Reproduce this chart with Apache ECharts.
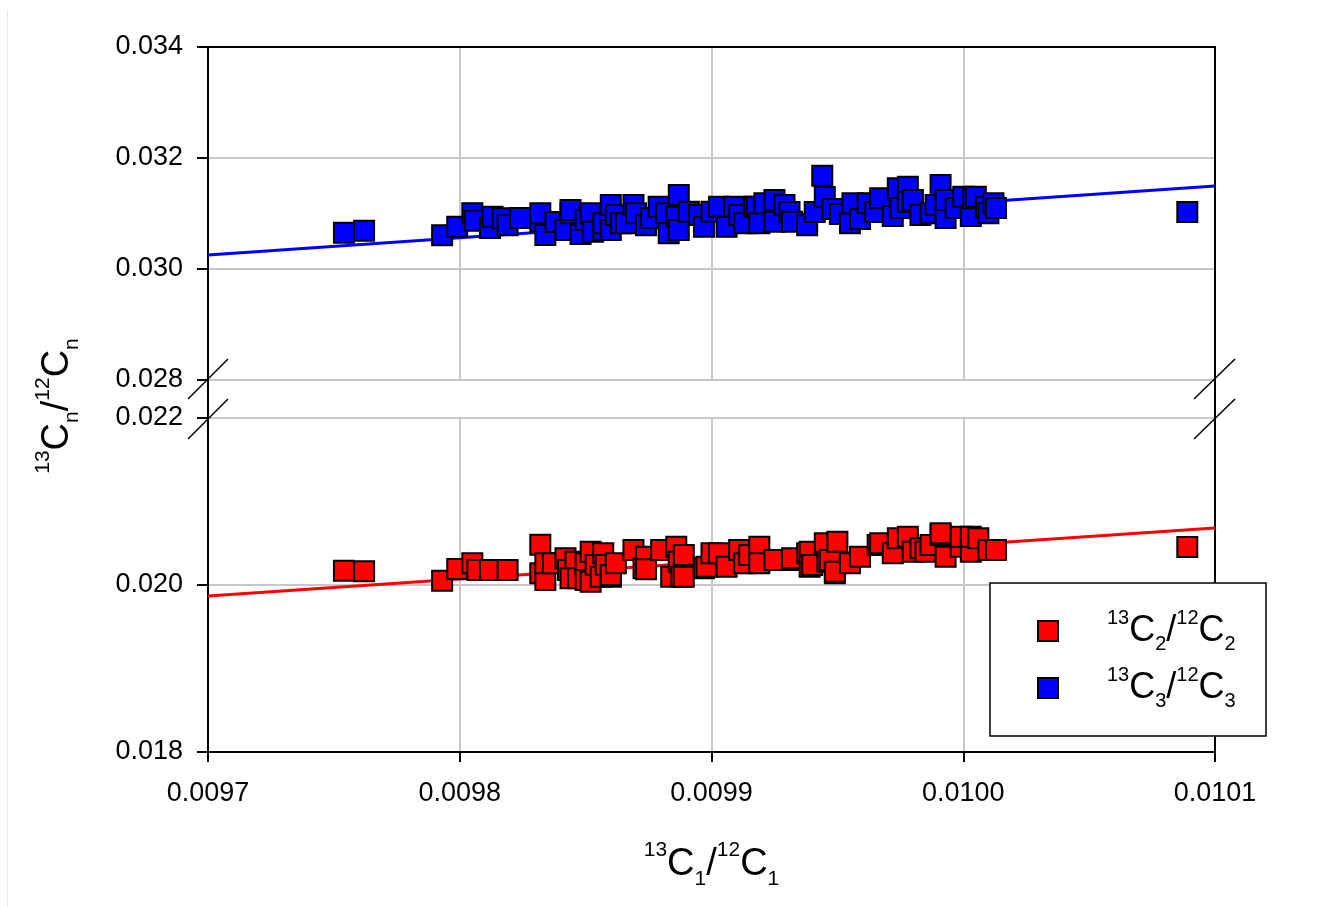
<!DOCTYPE html>
<html lang="en">
<head>
    <meta charset="UTF-8">
    <title>13C ratios</title>
    <script src="https://cdn.jsdelivr.net/npm/echarts@6/dist/echarts.min.js"></script>
</head>
<body style="margin: 0; background: #fff">
<div id="chart" style="width: 1326px; height: 907px"></div>

<script>
    // axis ranges (x shared, y split in two panels)
    const xRange = [0.0097, 0.0101];
    const xStep = 0.0001;
    const yTopRange = [0.028, 0.034];
    const yBottomRange = [0.018, 0.022];
    const yStep = 0.002;

    // 13C3/12C3 vs 13C1/12C1 (blue, upper panel)
    const c3Points = [
        [0.009754, 0.030654], [0.009762, 0.030690], [0.009793, 0.030607], [0.009799, 0.030762],
        [0.009805, 0.031004], [0.009806, 0.030870], [0.009812, 0.030739], [0.009813, 0.030942],
        [0.009817, 0.030913], [0.009819, 0.030787], [0.009824, 0.030919], [0.009832, 0.030852],
        [0.009832, 0.031004], [0.009834, 0.030613], [0.009838, 0.030847], [0.009842, 0.030703],
        [0.009844, 0.031004], [0.009844, 0.031063], [0.009848, 0.030631], [0.009850, 0.030883],
        [0.009852, 0.031004], [0.009853, 0.030672], [0.009857, 0.030703], [0.009857, 0.030823],
        [0.009860, 0.031153], [0.009860, 0.030703], [0.009862, 0.030973], [0.009864, 0.030823],
        [0.009866, 0.030823], [0.009869, 0.031153], [0.009870, 0.031004], [0.009874, 0.030787],
        [0.009876, 0.030919], [0.009879, 0.031123], [0.009882, 0.031004], [0.009883, 0.030643],
        [0.009886, 0.030942], [0.009887, 0.031333], [0.009887, 0.030703], [0.009891, 0.031032],
        [0.009895, 0.030973], [0.009897, 0.030762], [0.009900, 0.031032], [0.009903, 0.031123],
        [0.009906, 0.030762], [0.009909, 0.031123], [0.009911, 0.030973], [0.009913, 0.030823],
        [0.009917, 0.031123], [0.009918, 0.031123], [0.009919, 0.030823], [0.009921, 0.031184],
        [0.009925, 0.030852], [0.009925, 0.031243], [0.009929, 0.031153], [0.009931, 0.031027],
        [0.009932, 0.030852], [0.009938, 0.030787], [0.009941, 0.031027], [0.009944, 0.031681],
        [0.009945, 0.031297], [0.009948, 0.031081], [0.009951, 0.030991], [0.009955, 0.030823],
        [0.009956, 0.031184], [0.009959, 0.030901], [0.009962, 0.031184], [0.009965, 0.031027],
        [0.009967, 0.031274], [0.009972, 0.030955], [0.009974, 0.031454], [0.009975, 0.031099],
        [0.009978, 0.031483], [0.009978, 0.031213], [0.009980, 0.031243], [0.009983, 0.030973],
        [0.009987, 0.031004], [0.009989, 0.031153], [0.009991, 0.031514], [0.009993, 0.030919],
        [0.009993, 0.031243], [0.009997, 0.031099], [0.010000, 0.031303], [0.010003, 0.030955],
        [0.010004, 0.031274], [0.010005, 0.031303], [0.010009, 0.031117], [0.010010, 0.031004],
        [0.010012, 0.031184], [0.010013, 0.031099], [0.010089, 0.031027]
    ];

    // 13C2/12C2 vs 13C1/12C1 (red, lower panel)
    const c2Points = [
        [0.009754, 0.020171], [0.009762, 0.020164], [0.009793, 0.020052], [0.009799, 0.020192],
        [0.009805, 0.020260], [0.009807, 0.020180], [0.009812, 0.020180], [0.009819, 0.020180],
        [0.009832, 0.020483], [0.009832, 0.020140], [0.009834, 0.020060], [0.009834, 0.020260],
        [0.009837, 0.020260], [0.009842, 0.020320], [0.009843, 0.020180], [0.009846, 0.020279],
        [0.009844, 0.020080], [0.009847, 0.020080], [0.009850, 0.020260], [0.009850, 0.020060],
        [0.009852, 0.020040], [0.009852, 0.020399], [0.009854, 0.020240], [0.009856, 0.020099],
        [0.009857, 0.020380], [0.009858, 0.020240], [0.009860, 0.020099], [0.009860, 0.020120],
        [0.009862, 0.020260], [0.009869, 0.020419], [0.009873, 0.020200], [0.009874, 0.020339],
        [0.009874, 0.020188], [0.009880, 0.020419], [0.009884, 0.020099], [0.009886, 0.020459],
        [0.009887, 0.020279], [0.009888, 0.020099], [0.009889, 0.020359], [0.009889, 0.020099],
        [0.009897, 0.020200], [0.009898, 0.020219], [0.009900, 0.020380], [0.009903, 0.020380],
        [0.009906, 0.020219], [0.009911, 0.020419], [0.009913, 0.020260], [0.009915, 0.020359],
        [0.009919, 0.020459], [0.009919, 0.020260], [0.009925, 0.020299], [0.009932, 0.020299],
        [0.009932, 0.020320], [0.009938, 0.020380], [0.009939, 0.020399], [0.009939, 0.020219],
        [0.009940, 0.020240], [0.009945, 0.020499], [0.009946, 0.020279], [0.009947, 0.020299],
        [0.009949, 0.020140], [0.009949, 0.020159], [0.009950, 0.020519], [0.009955, 0.020260],
        [0.009959, 0.020339], [0.009966, 0.020479], [0.009967, 0.020499], [0.009972, 0.020380],
        [0.009974, 0.020559], [0.009978, 0.020578], [0.009980, 0.020399], [0.009983, 0.020440],
        [0.009985, 0.020399], [0.009987, 0.020479], [0.009991, 0.020599], [0.009991, 0.020619],
        [0.009993, 0.020339], [0.009999, 0.020459], [0.009999, 0.020578], [0.010003, 0.020399],
        [0.010003, 0.020578], [0.010006, 0.020559], [0.010010, 0.020419], [0.010013, 0.020419],
        [0.010089, 0.020455]
    ];

    // regression lines, end points at the x range limits
    const c3Fit = [[0.0097, 0.030252], [0.0101, 0.031495]];
    const c2Fit = [[0.0097, 0.019868], [0.0101, 0.020683]];

    const font = 'Liberation Sans, Arial, Helvetica, sans-serif';
    const gridColor = '#c8c8c8';

    function richStyle(big, small, lh) {
        return {
            b: {fontSize: big, lineHeight: lh, fontFamily: font, color: '#000'},
            sup: {fontSize: small, lineHeight: small, verticalAlign: 'top', fontFamily: font, color: '#000'},
            sup0: {fontSize: small, lineHeight: small, verticalAlign: 'top', fontFamily: font, color: '#000', padding: [0, 0, 0, 44]},
            sub: {fontSize: small, lineHeight: small, verticalAlign: 'bottom', fontFamily: font, color: '#000'}
        };
    }

    function ratio(n, first) {
        return '{' + (first ? 'sup0' : 'sup') + '|13}{b|C}{sub|' + n + '}{b|/}{sup|12}{b|C}{sub|' + n + '}';
    }

    function yAxis(grid, range, side) {
        const left = side === 'left';
        return {
            type: 'value', gridIndex: grid, position: side,
            min: range[0], max: range[1], interval: yStep,
            axisLine: {show: true, lineStyle: {color: '#000', width: 2}},
            axisTick: {show: left, inside: false, length: 11, lineStyle: {color: '#000', width: 2}},
            axisLabel: {
                show: left, margin: 25, fontSize: 27, fontFamily: font, color: '#000',
                formatter: v => v.toFixed(3)
            },
            splitLine: {show: left, lineStyle: {color: gridColor, width: 2}}
        };
    }

    let chart = echarts.init(document.getElementById('chart'));

    let option = {
        animation: false,
        backgroundColor: '#fff',
        grid: [
            {left: 208, right: 111, top: 47, height: 333, outerBoundsMode: 'none'},
            {left: 208, right: 111, top: 418, height: 334, outerBoundsMode: 'none'}
        ],
        xAxis: [
            {
                type: 'value', gridIndex: 0, position: 'top',
                min: xRange[0], max: xRange[1], interval: xStep,
                axisLine: {show: true, lineStyle: {color: '#000', width: 2}},
                axisTick: {show: false},
                axisLabel: {show: false},
                splitLine: {show: true, lineStyle: {color: gridColor, width: 2}}
            },
            {
                type: 'value', gridIndex: 1, position: 'bottom',
                min: xRange[0], max: xRange[1], interval: xStep,
                axisLine: {show: true, onZero: false, lineStyle: {color: '#000', width: 2}},
                axisTick: {show: true, length: 10, lineStyle: {color: '#000', width: 2}},
                axisLabel: {
                    margin: 28, fontSize: 27, fontFamily: font, color: '#000',
                    formatter: v => v.toFixed(4)
                },
                splitLine: {show: true, lineStyle: {color: gridColor, width: 2}},
                name: ratio(1, false),
                nameLocation: 'middle',
                nameGap: 88,
                nameTextStyle: {rich: richStyle(38, 21, 50)}
            }
        ],
        yAxis: [
            yAxis(0, yTopRange, 'left'),
            yAxis(0, yTopRange, 'right'),
            yAxis(1, yBottomRange, 'left'),
            yAxis(1, yBottomRange, 'right')
        ],
        legend: {
            orient: 'vertical',
            left: 1037,
            top: 608,
            padding: 0,
            itemGap: 11,
            itemWidth: 20,
            itemHeight: 20,
            icon: 'rect',
            z: 200,
            itemStyle: {borderColor: '#000', borderWidth: 2},
            data: ['C2', 'C3'],
            formatter: name => ratio(name.slice(1), true),
            textStyle: {rich: richStyle(36, 20, 46)}
        },
        graphic: [
            // faint page edge
            {type: 'line', shape: {x1: 7.5, y1: 10, x2: 7.5, y2: 907}, style: {stroke: '#e8e8e8', lineWidth: 1}, z: 1},
            // axis lines across the break
            {type: 'line', shape: {x1: 208, y1: 380, x2: 208, y2: 418}, style: {stroke: '#000', lineWidth: 2}, z: 50},
            {type: 'line', shape: {x1: 1215, y1: 380, x2: 1215, y2: 418}, style: {stroke: '#000', lineWidth: 2}, z: 50},
            // break marks
            {type: 'line', shape: {x1: 188, y1: 399, x2: 228, y2: 359}, style: {stroke: '#000', lineWidth: 1.5}, z: 50},
            {type: 'line', shape: {x1: 188, y1: 439, x2: 228, y2: 399}, style: {stroke: '#000', lineWidth: 1.5}, z: 50},
            {type: 'line', shape: {x1: 1194, y1: 399, x2: 1235, y2: 359}, style: {stroke: '#000', lineWidth: 1.5}, z: 50},
            {type: 'line', shape: {x1: 1194, y1: 439, x2: 1235, y2: 399}, style: {stroke: '#000', lineWidth: 1.5}, z: 50},
            // legend box
            {
                type: 'rect', shape: {x: 990, y: 583, width: 276, height: 153},
                style: {fill: '#fff', stroke: '#000', lineWidth: 1.5}, z: 100
            },
            // y axis title
            {
                type: 'text', x: 58, y: 406, rotation: Math.PI / 2, z: 50,
                style: {
                    text: ratio('n', false),
                    rich: richStyle(38, 21, 50),
                    align: 'center',
                    verticalAlign: 'middle'
                }
            }
        ],
        series: [
            {
                name: 'C3', type: 'scatter', xAxisIndex: 0, yAxisIndex: 0,
                symbol: 'rect', symbolSize: 20, z: 3,
                itemStyle: {color: '#0000ff', borderColor: '#000', borderWidth: 2, opacity: 1},
                data: c3Points
            },
            {
                name: 'C2', type: 'scatter', xAxisIndex: 1, yAxisIndex: 2,
                symbol: 'rect', symbolSize: 20, z: 3,
                itemStyle: {color: '#ff0000', borderColor: '#000', borderWidth: 2, opacity: 1},
                data: c2Points
            },
            {
                type: 'line', xAxisIndex: 0, yAxisIndex: 0, z: 2, silent: true,
                symbol: 'none', lineStyle: {color: '#0000ff', width: 3},
                data: c3Fit
            },
            {
                type: 'line', xAxisIndex: 1, yAxisIndex: 2, z: 2, silent: true,
                symbol: 'none', lineStyle: {color: '#ff0000', width: 3},
                data: c2Fit
            }
        ]
    };
    chart.setOption(option);
</script>
</body>
</html>
